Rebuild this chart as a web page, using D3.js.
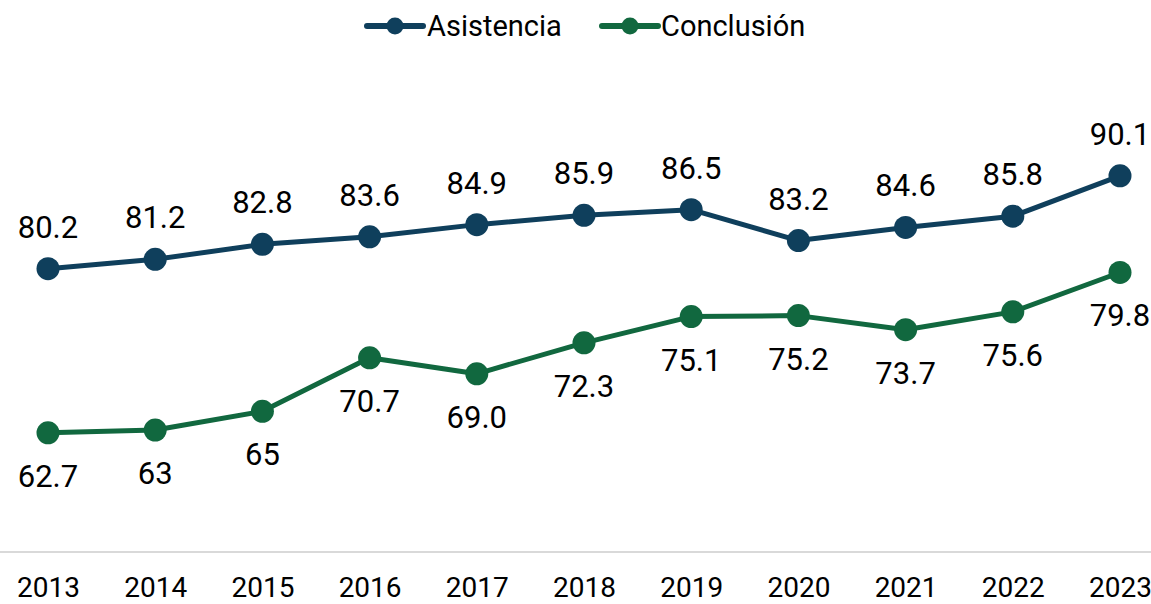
<!DOCTYPE html>
<html>
<head>
<meta charset="utf-8">
<script src="https://cdn.jsdelivr.net/npm/d3@7"></script>
<style>
  html, body { margin: 0; padding: 0; background: #fff; }
  svg { display: block; font-family: Roboto, "Noto Sans", sans-serif; }
</style>
</head>
<body>
<script>
'use strict';

const years = ['2013', '2014', '2015', '2016', '2017', '2018', '2019', '2020', '2021', '2022', '2023'];
const asistencia = [80.2, 81.2, 82.8, 83.6, 84.9, 85.9, 86.5, 83.2, 84.6, 85.8, 90.1];
const asistenciaLabels = ['80.2', '81.2', '82.8', '83.6', '84.9', '85.9', '86.5', '83.2', '84.6', '85.8', '90.1'];
const conclusion = [62.7, 63, 65, 70.7, 69.0, 72.3, 75.1, 75.2, 73.7, 75.6, 79.8];
const conclusionLabels = ['62.7', '63', '65', '70.7', '69.0', '72.3', '75.1', '75.2', '73.7', '75.6', '79.8'];
const seriesNames = ['Asistencia', 'Conclusión'];

const width = 1151;
const height = 604;
const colors = ['#0f3f5c', '#11683f'];

const svg = d3.select('body').append('svg')
  .attr('width', width)
  .attr('height', height);

const x = d3.scalePoint().domain(years).range([48, 1120]);
const y = d3.scaleLinear().domain([50, 100]).range([552, 83]);

// baseline
svg.append('line')
  .attr('x1', 0).attr('x2', width)
  .attr('y1', y(50)).attr('y2', y(50))
  .attr('stroke', '#d9d9d9')
  .attr('stroke-width', 2);

// x axis labels
const xAxis = svg.append('g')
  .attr('transform', `translate(0,${y(50)})`)
  .call(d3.axisBottom(x).tickSize(0).tickPadding(0));
xAxis.select('.domain').remove();
xAxis.selectAll('text')
  .attr('y', 45)
  .attr('dy', null)
  .attr('font-size', 28)
  .attr('font-family', 'Roboto, sans-serif')
  .attr('fill', '#000');

const series = [
  { name: seriesNames[0], values: asistencia, labels: asistenciaLabels, color: colors[0], dy: -31 },
  { name: seriesNames[1], values: conclusion, labels: conclusionLabels, color: colors[1], dy: 54 },
];

const line = d3.line()
  .x((d, i) => x(years[i]))
  .y((d) => y(d));

series.forEach((s) => {
  const g = svg.append('g');
  g.append('path')
    .datum(s.values)
    .attr('d', line)
    .attr('fill', 'none')
    .attr('stroke', s.color)
    .attr('stroke-width', 5)
    .attr('stroke-linejoin', 'round');
  g.selectAll('circle')
    .data(s.values)
    .enter().append('circle')
    .attr('cx', (d, i) => x(years[i]))
    .attr('cy', (d) => y(d))
    .attr('r', 11.5)
    .attr('fill', s.color);
  g.selectAll('text')
    .data(s.values)
    .enter().append('text')
    .attr('x', (d, i) => x(years[i]))
    .attr('y', (d) => y(d) + s.dy)
    .attr('text-anchor', 'middle')
    .attr('font-size', 31)
    .attr('fill', '#000')
    .text((d, i) => s.labels[i]);
});

// legend
const legendItems = [
  { x: 367, textX: 427 },
  { x: 602, textX: 661 },
];
series.forEach((s, i) => {
  const lg = svg.append('g');
  const lx = legendItems[i].x;
  lg.append('line')
    .attr('x1', lx).attr('x2', lx + 56)
    .attr('y1', 26).attr('y2', 26)
    .attr('stroke', s.color)
    .attr('stroke-width', 6)
    .attr('stroke-linecap', 'round');
  lg.append('circle')
    .attr('cx', lx + 28).attr('cy', 26)
    .attr('r', 8.5)
    .attr('fill', s.color);
  lg.append('text')
    .attr('x', legendItems[i].textX)
    .attr('y', 36)
    .attr('font-size', 29)
    .attr('fill', '#000')
    .text(s.name);
});
</script>
</body>
</html>
